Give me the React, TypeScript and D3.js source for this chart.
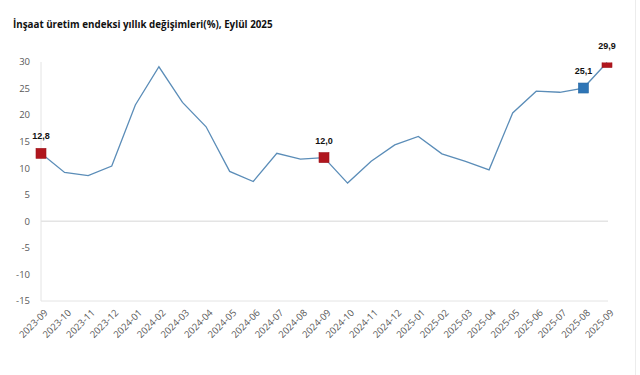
import React, { useRef, useEffect } from 'react';
import * as d3 from 'd3';

const title = 'İnşaat üretim endeksi yıllık değişimleri(%), Eylül 2025';

const months = [
  '2023-09', '2023-10', '2023-11', '2023-12', '2024-01', '2024-02', '2024-03',
  '2024-04', '2024-05', '2024-06', '2024-07', '2024-08', '2024-09', '2024-10',
  '2024-11', '2024-12', '2025-01', '2025-02', '2025-03', '2025-04', '2025-05',
  '2025-06', '2025-07', '2025-08', '2025-09',
];

const values = [
  12.8, 9.2, 8.6, 10.4, 21.9, 29.1, 22.4, 17.8, 9.4, 7.5, 12.8, 11.7, 12.0,
  7.2, 11.3, 14.4, 16.0, 12.7, 11.3, 9.7, 20.4, 24.5, 24.3, 25.1, 29.9,
];

// highlighted points: month, colour
const highlights = [
  { month: '2023-09', color: '#B0161E' },
  { month: '2024-09', color: '#B0161E' },
  { month: '2025-08', color: '#2E75B6' },
  { month: '2025-09', color: '#B0161E' },
];

const yTicks = [30, 25, 20, 15, 10, 5, 0, -5, -10, -15];

const App = () => {
  const ref = useRef<SVGSVGElement>(null);

  useEffect(() => {
    const svg = d3.select(ref.current);
    svg.selectAll('*').remove();

    const data = months.map((m, i) => ({ m, v: values[i] }));

    const x = d3.scalePoint().domain(months).range([41, 607]);
    const y = d3.scaleLinear().domain([-15, 30]).range([301, 62]);

    svg
      .append('text')
      .attr('x', 13)
      .attr('y', 28)
      .attr('font-family', 'Open Sans, sans-serif')
      .attr('font-weight', 'bold')
      .attr('font-size', '9.8px')
      .attr('fill', '#111')
      .text(title);

    // right border of the picture
    svg
      .append('line')
      .attr('x1', 635.5).attr('x2', 635.5)
      .attr('y1', 0).attr('y2', 375)
      .attr('stroke', '#ececec');

    // y axis labels
    svg
      .append('g')
      .selectAll('text')
      .data(yTicks)
      .join('text')
      .attr('x', 30)
      .attr('y', (d) => y(d))
      .attr('dy', '0.35em')
      .attr('text-anchor', 'end')
      .attr('font-family', 'Open Sans, sans-serif')
      .attr('font-size', '9.5px')
      .attr('fill', '#595959')
      .text((d) => d);

    // axis lines
    svg
      .append('line')
      .attr('x1', 41).attr('x2', 41)
      .attr('y1', y(30)).attr('y2', y(-15))
      .attr('stroke', '#e4e4e4');
    svg
      .append('line')
      .attr('x1', 41).attr('x2', 608)
      .attr('y1', y(0)).attr('y2', y(0))
      .attr('stroke', '#e4e4e4')
      .attr('stroke-width', 1.5);
    svg
      .append('line')
      .attr('x1', 41).attr('x2', 608)
      .attr('y1', y(-15)).attr('y2', y(-15))
      .attr('stroke', '#e4e4e4');

    // x axis labels
    svg
      .append('g')
      .selectAll('text')
      .data(months)
      .join('text')
      .attr('transform', (d) => `translate(${x(d)! + 5},${y(-15) + 10}) rotate(-45)`)
      .attr('text-anchor', 'end')
      .attr('dy', '0.35em')
      .attr('font-family', 'Open Sans, sans-serif')
      .attr('font-size', '9.5px')
      .attr('fill', '#595959')
      .text((d) => d);

    svg
      .append('defs')
      .append('clipPath')
      .attr('id', 'plot-clip')
      .append('rect')
      .attr('x', 0)
      .attr('y', y(30) + 0.5)
      .attr('width', 640)
      .attr('height', y(-15) - y(30));

    const line = d3
      .line<{ m: string; v: number }>()
      .x((d) => x(d.m)!)
      .y((d) => y(d.v));

    svg
      .append('path')
      .datum(data)
      .attr('fill', 'none')
      .attr('stroke', '#5B8DB8')
      .attr('stroke-width', 1.3)
      .attr('d', line);

    const hl = highlights.map((h) => ({ ...h, v: values[months.indexOf(h.month)] }));

    svg
      .append('g')
      .attr('clip-path', 'url(#plot-clip)')
      .selectAll('rect')
      .data(hl)
      .join('rect')
      .attr('x', (d) => x(d.month)! - 5)
      .attr('y', (d) => y(d.v) - 5)
      .attr('width', 10)
      .attr('height', 10)
      .attr('fill', (d) => d.color)
      .attr('stroke', (d) => d3.color(d.color)!.darker(0.3).toString())
      .attr('stroke-width', 0.6);

    svg
      .append('g')
      .selectAll('text')
      .data(hl)
      .join('text')
      .attr('x', (d) => x(d.month)!)
      .attr('y', (d) => y(d.v) - 14)
      .attr('text-anchor', 'middle')
      .attr('font-family', 'Liberation Sans, Arial, sans-serif')
      .attr('font-weight', 'bold')
      .attr('font-size', '9px')
      .attr('fill', '#111')
      .text((d) => d.v.toFixed(1).replace('.', ','));
  }, []);

  return (
    <svg
      ref={ref}
      width={640}
      height={375}
      style={{ position: 'absolute', left: 0, top: 0, background: '#fff' }}
    ></svg>
  );
};

export default App;
